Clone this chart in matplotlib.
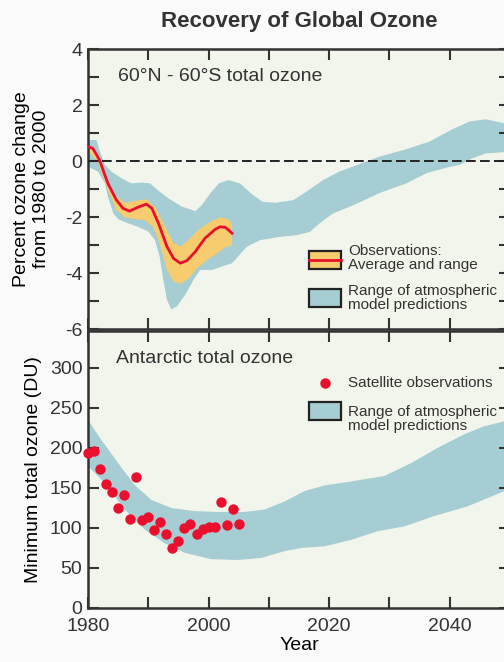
import numpy as np
import matplotlib
matplotlib.use("Agg")
import matplotlib.pyplot as plt
from matplotlib.patches import Rectangle
from matplotlib.lines import Line2D

plt.rcParams.update({"font.family": ["Liberation Sans", "DejaVu Sans"],
                     "axes.unicode_minus": False,
                     "text.color": "#333333",
                     "xtick.color": "#333333", "ytick.color": "#333333"})

BLUE = "#A6CDD3"
ORANGE = "#F6CC6E"
RED = "#E8102D"
FACE = "#F2F5EB"
BG = "#FAFAFA"
INK = "#333333"

# ── top panel: 60N-60S percent change ─────────────────────────────
mod_up_x = [1980, 1981.4, 1981.9, 1982.8, 1983.9, 1985.6, 1987.2, 1988.9,
            1990.3, 1991.4, 1993.3, 1995.6, 1997.8, 1998.9, 2000.3, 2001.7,
            2003.3, 2005.2, 2007.4, 2009.0, 2011.2, 2014.0, 2016.2, 2019.0,
            2021.7, 2025.0, 2028.4, 2032.8, 2036.6, 2040.5, 2043.3, 2046.0,
            2050]
mod_up_y = [0.75, 0.75, 0.39, -0.14, -0.38, -0.62, -0.80, -0.77,
            -0.80, -1.01, -1.33, -1.63, -1.79, -1.57, -1.15, -0.80,
            -0.68, -0.80, -1.22, -1.46, -1.49, -1.40, -1.10, -0.68,
            -0.38, -0.11, 0.16, 0.42, 0.69, 1.14, 1.41, 1.49,
            1.30]
mod_lo_x = [1980, 1981.7, 1982.8, 1983.3, 1984.2, 1985.0, 1986.7, 1988.3,
            1990.0, 1991.1, 1991.9, 1992.5, 1993.1, 1993.8, 1994.7, 1996.1,
            1997.5, 1998.6, 2000.6, 2002.2, 2003.9, 2006.3, 2008.5, 2011.8,
            2014.6, 2016.8, 2018.4, 2020.6, 2024.0, 2028.4, 2032.8, 2036.1,
            2039.4, 2041.6, 2043.8, 2046.0, 2050]
mod_lo_y = [-0.20, -0.38, -0.80, -1.27, -1.87, -2.08, -2.23, -2.35,
            -2.52, -2.82, -3.42, -4.25, -4.96, -5.30, -5.20, -4.79,
            -4.25, -3.89, -3.89, -3.77, -3.65, -3.07, -2.83, -2.71,
            -2.65, -2.53, -2.23, -1.88, -1.58, -1.14, -0.80, -0.44,
            -0.24, -0.14, 0.10, 0.27, 0.33]

obs_x = [1980.0, 1980.8, 1981.9, 1983.3, 1984.7, 1985.8, 1986.9, 1988.3,
         1989.7, 1990.6, 1991.7, 1993.1, 1994.2, 1995.3, 1996.4, 1997.8,
         1999.4, 2001.1, 2001.9, 2002.8, 2003.9]
obs_y = [0.51, 0.45, 0.04, -0.80, -1.39, -1.69, -1.79, -1.65,
         -1.54, -1.69, -2.23, -3.06, -3.48, -3.65, -3.56, -3.24,
         -2.76, -2.44, -2.35, -2.37, -2.58]
obs_up_x = [1980.0, 1981.7, 1983.3, 1984.7, 1986.1, 1987.8, 1989.7, 1991.1,
            1992.8, 1994.2, 1995.3, 1996.4, 1998.3, 2000.3, 2001.9, 2003.3,
            2003.9]
obs_up_y = [0.57, 0.15, -0.74, -1.27, -1.49, -1.42, -1.37, -1.63,
            -2.35, -2.94, -3.04, -2.88, -2.46, -2.17, -2.01, -2.08,
            -2.29]
obs_lo_x = [1980.0, 1981.7, 1983.3, 1984.7, 1986.1, 1987.8, 1989.4, 1990.8,
            1991.9, 1993.1, 1994.2, 1995.3, 1996.7, 1998.1, 1999.7, 2001.4,
            2002.8, 2003.9]
obs_lo_y = [0.39, -0.08, -1.04, -1.75, -2.01, -2.08, -2.11, -2.35,
            -2.94, -3.89, -4.31, -4.39, -4.19, -3.83, -3.54, -3.30,
            -3.08, -3.00]

# ── bottom panel: Antarctic minimum ozone ─────────────────────────
sat_years = list(range(1980, 2006))
sat_du = [193, 196, 174, 155, 145, 125, 141, 111, 164, 110, 114, 97, 107,
          93, 75, 84, 100, 105, 92, 99, 101, 101, 132, 104, 124, 105]

ant_up_x = [1980, 1982.2, 1985.0, 1987.7, 1990.5, 1993.8, 1997.7, 2001.5,
            2006.0, 2009.3, 2012.6, 2015.9, 2019.2, 2023.6, 2029.2, 2033.6,
            2038.0, 2042.4, 2045.7, 2050]
ant_up_y = [235, 210, 181, 154, 135, 125, 121, 120,
            120, 123, 133, 146, 153, 158, 165, 181,
            200, 217, 227, 235]
ant_lo_x = [1980, 1982.8, 1986.1, 1989.4, 1992.7, 1996.0, 2000.4, 2004.9,
            2008.7, 2012.6, 2015.4, 2019.2, 2023.6, 2028.1, 2032.5, 2037.5,
            2043.0, 2050]
ant_lo_y = [177, 156, 123, 98, 81, 69, 61, 60,
            62.5, 71, 75, 77, 85, 96, 102, 115,
            127, 149]

W, H = 504, 662
fig = plt.figure(figsize=(W / 100, H / 100), dpi=100, facecolor=BG)
L, R = 88, 510
ax1 = fig.add_axes([L / W, (H - 329) / H, (R - L) / W, 280 / H])
ax2 = fig.add_axes([L / W, (H - 608) / H, (R - L) / W, 277 / H])


def style(ax):
    ax.set_facecolor(FACE)
    for s in ax.spines.values():
        s.set_linewidth(1.8)
        s.set_color(INK)
    ax.tick_params(which="both", direction="in", length=8, width=1.5,
                   top=True, right=True, labelsize=14, pad=4)
    ax.set_xlim(1980, 2050)
    ax.set_xticks([1980, 2000, 2020, 2040])
    ax.set_xticks([1990, 2010, 2030], minor=True)


def polygon(ax, ux, uy, lx, ly, color):
    xs = list(ux) + list(lx)[::-1]
    ys = list(uy) + list(ly)[::-1]
    ax.fill(xs, ys, color=color, lw=0, zorder=1)


# top panel
style(ax1)
polygon(ax1, mod_up_x, mod_up_y, mod_lo_x, mod_lo_y, BLUE)
polygon(ax1, obs_up_x, obs_up_y, obs_lo_x, obs_lo_y, ORANGE)
ax1.plot(obs_x, obs_y, color=RED, lw=2, zorder=3, solid_joinstyle="round")
ax1.axhline(0, color="#222222", lw=1.4, dashes=(5, 2.2), zorder=4)
ax1.set_ylim(-6, 4)
ax1.set_yticks([-6, -4, -2, 0, 2, 4])
ax1.set_yticks([-5, -3, -1, 1, 3], minor=True)
ax1.tick_params(axis="x", labelbottom=False)
ax1.set_ylabel("Percent ozone change\nfrom 1980 to 2000", fontsize=14,
               va="center", ha="center", linespacing=1.17)
ax1.yaxis.set_label_coords(-0.134, 0.5)
ax1.text(0.071, 0.902, "60°N - 60°S total ozone", transform=ax1.transAxes,
         fontsize=14, va="center", ha="left")

ax1.add_patch(Rectangle((0.5237, 0.214), 0.0758, 0.0643, transform=ax1.transAxes,
                        fc=ORANGE, ec="#222222", lw=1.6, zorder=5))
ax1.add_line(Line2D([0.5237, 0.5995], [0.2464, 0.2464], transform=ax1.transAxes,
                    color=RED, lw=2, zorder=6))
ax1.add_patch(Rectangle((0.5237, 0.0786), 0.0758, 0.0643, transform=ax1.transAxes,
                        fc=BLUE, ec="#222222", lw=1.6, zorder=5))
ax1.text(0.616, 0.252, "Observations:\nAverage and range", transform=ax1.transAxes,
         fontsize=11, va="center", ha="left", linespacing=1.0)
ax1.text(0.616, 0.109, "Range of atmospheric\nmodel predictions",
         transform=ax1.transAxes, fontsize=11, va="center", ha="left",
         linespacing=1.0)

# bottom panel
style(ax2)
polygon(ax2, ant_up_x, ant_up_y, ant_lo_x, ant_lo_y, BLUE)
ax2.scatter(sat_years, sat_du, s=56, color=RED, lw=0, zorder=3, clip_on=False)
ax2.set_ylim(0, 346)
ax2.set_yticks([0, 50, 100, 150, 200, 250, 300])
ax2.tick_params(axis="x", pad=7)
ax2.set_xlabel("Year", fontsize=14, labelpad=2)
ax2.set_ylabel("Minimum total ozone (DU)", fontsize=14, va="center", ha="center")
ax2.yaxis.set_label_coords(-0.130, 0.5)
ax2.text(0.066, 0.9025, "Antarctic total ozone", transform=ax2.transAxes,
         fontsize=14, va="center", ha="left")

ax2.scatter([0.5616], [0.811], s=56, color=RED, lw=0, transform=ax2.transAxes,
            zorder=5)
ax2.text(0.616, 0.812, "Satellite observations", transform=ax2.transAxes,
         fontsize=11, va="center", ha="left")
ax2.add_patch(Rectangle((0.5237, 0.679), 0.0758, 0.065, transform=ax2.transAxes,
                        fc=BLUE, ec="#222222", lw=1.6, zorder=5))
ax2.text(0.616, 0.684, "Range of atmospheric\nmodel predictions",
         transform=ax2.transAxes, fontsize=11, va="center", ha="left",
         linespacing=1.0)

fig.text(299 / W, 1 - 22 / H, "Recovery of Global Ozone", fontsize=16,
         fontweight="bold", ha="center", va="center")

fig.savefig("out.png", dpi=100, facecolor=BG)
